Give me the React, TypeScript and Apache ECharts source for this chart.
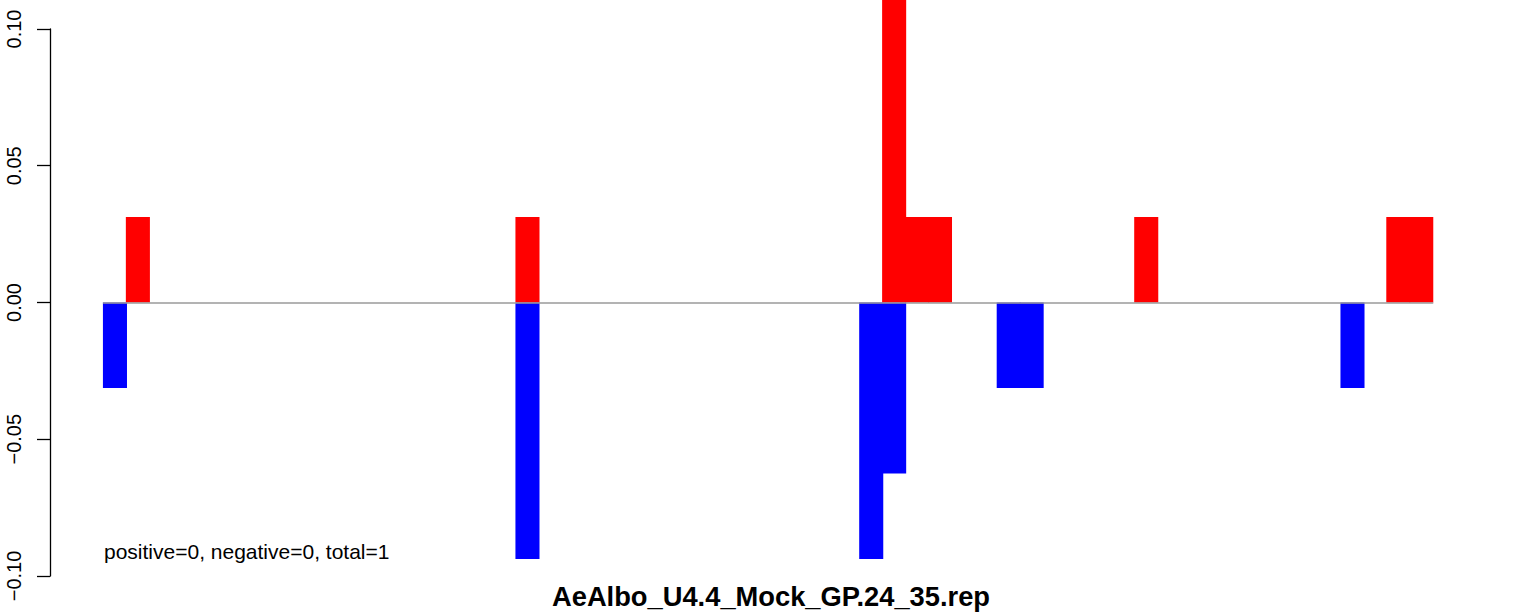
import React, { useEffect, useRef } from "react";
import * as echarts from "echarts";

// 58 equal-width slots along the x axis
const slotCount = 58;
const slots: string[] = Array.from({ length: slotCount }, (_, i) => String(i + 1));

// positive (red) bars: slot index and value
const redSlots = [1, 18, 34, 35, 36, 45, 56, 57];
const redValues = [0.03125, 0.03125, 0.125, 0.03125, 0.03125, 0.03125, 0.03125, 0.03125];

// negative (blue) bars: slot index and value
const blueSlots = [0, 18, 33, 34, 39, 40, 54];
const blueValues = [-0.03125, -0.09375, -0.09375, -0.0625, -0.03125, -0.03125, -0.03125];

const yTicks = [-0.1, -0.05, 0, 0.05, 0.1];

const titleText = "AeAlbo_U4.4_Mock_GP.24_35.rep";
const noteText = "positive=0, negative=0, total=1";

const FONT = "'Liberation Sans', Arial, Helvetica, sans-serif";

function buildSeries(idx: number[], vals: number[]): (number | null)[] {
  const arr: (number | null)[] = slots.map(() => null);
  idx.forEach((s, i) => {
    arr[s] = vals[i];
  });
  return arr;
}

export default function App() {
  const ref = useRef<HTMLDivElement>(null);

  useEffect(() => {
    if (!ref.current) return;
    const chart = echarts.init(ref.current, null, { renderer: "svg" });
    const gridLeft = 103.5;
    const axisX = 50;
    chart.setOption({
      animation: false,
      backgroundColor: "#ffffff",
      grid: { left: gridLeft, right: 103.3, top: 29, bottom: 38, containLabel: false },
      xAxis: {
        type: "category",
        data: slots,
        boundaryGap: true,
        z: 5,
        axisLine: { show: true, onZero: true, lineStyle: { color: "#9a9a9a", width: 1.5 } },
        axisTick: { show: false },
        axisLabel: { show: false },
        splitLine: { show: false },
      },
      yAxis: {
        type: "value",
        min: yTicks[0],
        max: yTicks[yTicks.length - 1],
        interval: 0.05,
        offset: gridLeft - axisX,
        axisLine: { show: true, lineStyle: { color: "#000000", width: 1.3 } },
        axisTick: { show: true, length: 13, lineStyle: { color: "#000000", width: 1.3 } },
        splitLine: { show: false },
        axisLabel: {
          rotate: 90,
          margin: 26,
          color: "#000000",
          fontSize: 20,
          fontFamily: FONT,
          formatter: (v: number) => {
            if (Math.abs(v) < 1e-9) return "0.00";
            const s = Math.abs(v).toFixed(2);
            return v < 0 ? "\u2212" + s : s;
          },
        },
      },
      series: [
        {
          name: "negative",
          type: "bar",
          data: buildSeries(blueSlots, blueValues),
          itemStyle: { color: "#0000ff" },
          barWidth: "105%",
          barGap: "-100%",
          clip: false,
          z: 2,
        },
        {
          name: "positive",
          type: "bar",
          data: buildSeries(redSlots, redValues),
          itemStyle: { color: "#ff0000" },
          barWidth: "105%",
          barGap: "-100%",
          clip: false,
          z: 2,
        },
      ],
      graphic: [
        {
          type: "text",
          x: 104,
          y: 551,
          style: {
            text: noteText,
            fill: "#000000",
            font: `21px ${FONT}`,
            textAlign: "left",
            textVerticalAlign: "middle",
          },
        },
        {
          type: "text",
          x: 771,
          y: 596,
          style: {
            text: titleText,
            fill: "#000000",
            font: `bold 27.3px ${FONT}`,
            textAlign: "center",
            textVerticalAlign: "middle",
          },
        },
      ],
    });
    return () => chart.dispose();
  }, []);

  return (
    <div
      ref={ref}
      style={{ position: "absolute", left: 0, top: 0, width: 1536, height: 614 }}
    />
  );
}
